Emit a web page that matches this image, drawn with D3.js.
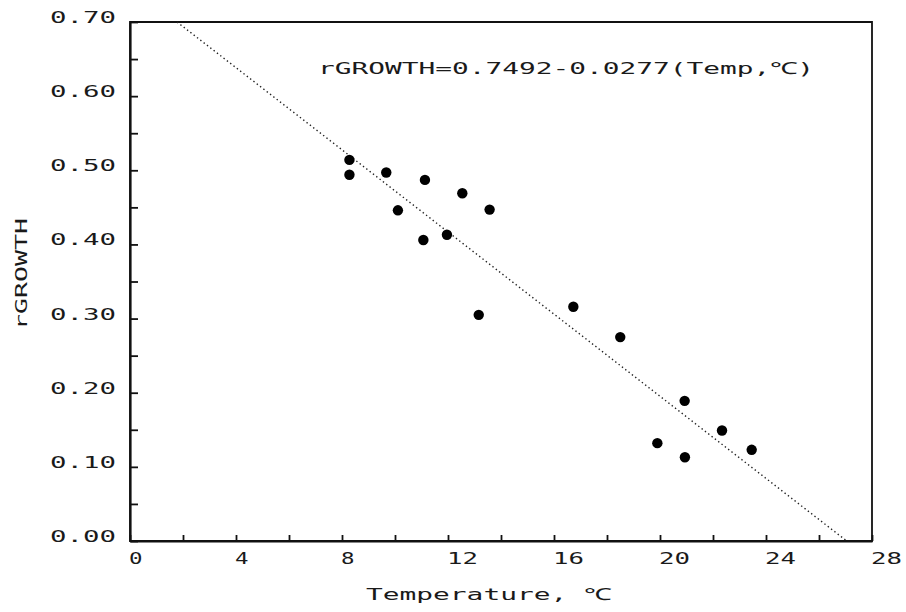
<!DOCTYPE html>
<html>
<head>
<meta charset="utf-8">
<script src="https://cdn.jsdelivr.net/npm/d3@7"></script>
<style>
  html, body { margin: 0; padding: 0; background: #fff; }
  svg { display: block; }
  text { font-family: "DejaVu Sans Mono", "Liberation Mono", monospace; font-size: 16.5px; fill: #1a1a1a; }
</style>
</head>
<body>
<script>
// ---- data ----
const temperature = [8.28, 8.28, 9.67, 10.11, 11.13, 11.07, 11.96, 12.54, 13.16, 13.57, 16.73, 18.50, 19.90, 20.93, 20.94, 22.34, 23.46];
const rGrowth     = [0.514, 0.494, 0.497, 0.446, 0.487, 0.406, 0.413, 0.469, 0.305, 0.447, 0.316, 0.275, 0.132, 0.189, 0.113, 0.149, 0.123];
const intercept = 0.7492;
const slope = -0.0277;
const xTicks = [0, 2, 4, 6, 8, 10, 12, 14, 16, 18, 20, 22, 24, 26, 28];
const xLabels = [0, 4, 8, 12, 16, 20, 24, 28];
const yTicks = [0, 0.05, 0.10, 0.15, 0.20, 0.25, 0.30, 0.35, 0.40, 0.45, 0.50, 0.55, 0.60, 0.65, 0.70];
const yLabels = [0, 0.10, 0.20, 0.30, 0.40, 0.50, 0.60, 0.70];
const equationText = "rGROWTH=0.7492-0.0277(Temp,℃)";
const xTitle = "Temperature, ℃";
const yTitle = "rGROWTH";

const W = 906, H = 612;
const svg = d3.select("body").append("svg").attr("width", W).attr("height", H);

const x = d3.scaleLinear().domain([0, 28]).range([130, 872]);
const y = d3.scaleLinear().domain([0, 0.7]).range([541, 22]);

const PITCH = 17.5;
const INK = "#111";

// plot frame
const x0 = x(0), x1 = x(28), yb = y(0), yt = y(0.7);
const framePath = d3.path();
framePath.moveTo(x0, yt);
framePath.lineTo(x1, yt);
framePath.lineTo(x1, yb);
framePath.lineTo(x0, yb);
framePath.closePath();
svg.append("path")
  .attr("d", framePath.toString())
  .attr("fill", "none")
  .attr("stroke", INK)
  .attr("stroke-width", 1.8);

// x axis ticks (inward)
const xAxis = d3.axisBottom(x).tickValues(xTicks).tickSize(-6).tickSizeOuter(0).tickFormat("");
const gx = svg.append("g").attr("transform", `translate(0,${yb})`).call(xAxis);
gx.select(".domain").attr("stroke", INK).attr("stroke-width", 2.2);
gx.selectAll(".tick line").attr("stroke", INK).attr("stroke-width", 1.8);

// x labels
svg.append("g").selectAll("text").data(xLabels).join("text")
  .attr("x", d => x(d) - 1)
  .attr("y", 564)
  .attr("text-anchor", "start")
  .attr("textLength", d => String(d).length * PITCH - 4)
  .attr("lengthAdjust", "spacingAndGlyphs")
  .text(d => d);

// y axis ticks (inward)
const yAxis = d3.axisLeft(y).tickValues(yTicks).tickSize(-8).tickSizeOuter(0).tickFormat("");
const gy = svg.append("g").attr("transform", `translate(${x0},0)`).call(yAxis);
gy.select(".domain").attr("stroke", INK).attr("stroke-width", 2.2);
gy.selectAll(".tick line").attr("stroke", INK).attr("stroke-width", 1.8);

// y labels
svg.append("g").selectAll("text").data(yLabels).join("text")
  .attr("x", 50)
  .attr("y", d => y(d) + 1)
  .attr("text-anchor", "start")
  .attr("textLength", 4 * PITCH - 4)
  .attr("lengthAdjust", "spacingAndGlyphs")
  .text(d => d3.format(".2f")(d));

// regression line (dotted), from y=0.70 down to y=0
const tTop = (0.7 - intercept) / slope;
const tBot = (0 - intercept) / slope;
const lineData = [tTop, tBot].map(t => [t, intercept + slope * t]);
svg.append("path")
  .datum(lineData)
  .attr("d", d3.line().x(d => x(d[0])).y(d => y(d[1])))
  .attr("fill", "none")
  .attr("stroke", "#222")
  .attr("stroke-width", 1.4)
  .attr("stroke-dasharray", "1.4,2.8");

// points
svg.append("g").selectAll("circle").data(temperature.map((t, i) => [t, rGrowth[i]])).join("circle")
  .attr("cx", d => x(d[0]))
  .attr("cy", d => y(d[1]))
  .attr("r", 5.2)
  .attr("fill", "#000");

// equation
svg.append("text")
  .attr("x", 318).attr("y", 74)
  .attr("textLength", equationText.length * 17.1)
  .attr("lengthAdjust", "spacingAndGlyphs")
  .text(equationText);

// x title
svg.append("text")
  .attr("x", 366).attr("y", 600)
  .attr("textLength", xTitle.length * PITCH)
  .attr("lengthAdjust", "spacingAndGlyphs")
  .text(xTitle);

// y title
svg.append("text")
  .attr("transform", "translate(27,274) rotate(-90)")
  .attr("text-anchor", "middle")
  .attr("textLength", yTitle.length * 16)
  .attr("lengthAdjust", "spacingAndGlyphs")
  .text(yTitle);
</script>
</body>
</html>
